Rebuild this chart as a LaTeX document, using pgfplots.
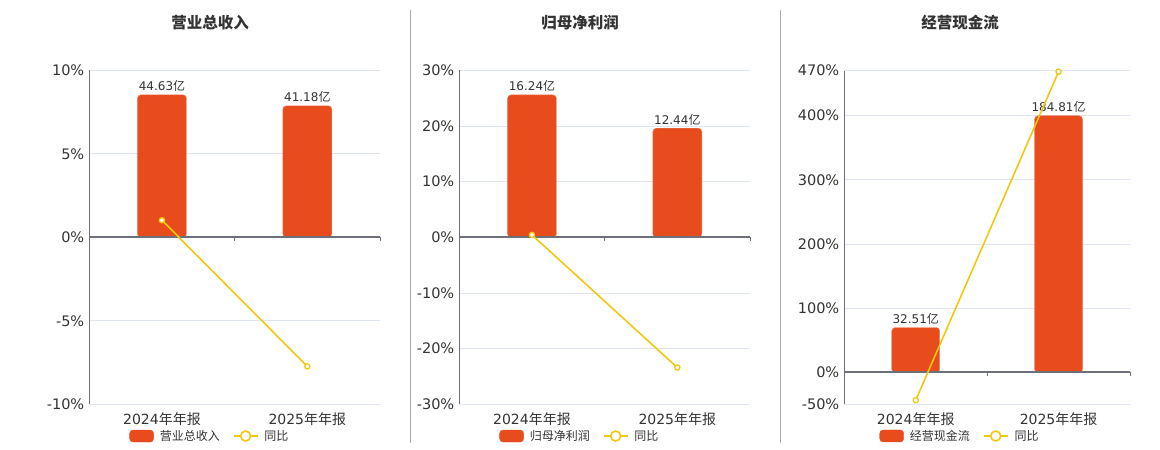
\documentclass[border=0pt]{standalone}
\usepackage{pgfplots}
\pgfplotsset{compat=1.18}
\usepackage{fontspec}
\setmainfont{DejaVu Sans}
\newfontfamily\cjk{Noto Sans CJK SC}
\definecolor{barred}{HTML}{E84B1C}
\definecolor{lineyel}{HTML}{F2C80F}
\definecolor{gridc}{HTML}{E0E6F1}
\definecolor{axisc}{HTML}{6E7079}
\definecolor{txt}{HTML}{333333}
\definecolor{sepc}{HTML}{AAAAAA}

\pgfplotstableread{
x val
0 44.63
1 41.18
}\revbar
\pgfplotstableread{
x yoy
0 1.02
1 -7.73
}\revyoy
\pgfplotstableread{
x val
0 16.24
1 12.44
}\npbar
\pgfplotstableread{
x yoy
0 0.43
1 -23.40
}\npyoy
\pgfplotstableread{
x val
0 32.51
1 184.81
}\cfbar
\pgfplotstableread{
x yoy
0 -43.6
1 468.5
}\cfyoy

\pgfplotsset{
  baseax/.style={
    scale only axis, anchor=south west,
    xmin=-0.5, xmax=1.5,
    /pgf/number format/assume math mode=true,
  },
  mainax/.style={
    baseax,
    axis lines*=left,
    x axis line style={draw=none},
    y axis line style={draw=axisc, line width=0.8pt},
    ymajorgrids, grid style={draw=gridc, line width=0.8pt},
    xtick={0,1},
    xticklabels={2024{\cjk 年年报},2025{\cjk 年年报}},
    major tick length=0pt,
    xticklabel style={font=\fontsize{14}{16}\selectfont, text=txt, anchor=base, yshift=-20.5pt},
    yticklabel style={font=\fontsize{14.5}{17}\selectfont, text=txt, xshift=-1.5pt},
    yticklabel={\pgfmathprintnumber{\tick}\%},
    clip=false,
  },
  hiddenax/.style={
    baseax, hide axis, clip=false,
  },
  barax/.style={
    hiddenax, ybar, bar width=#1,
    nodes near coords={\pgfmathprintnumber[fixed,precision=2,fixed zerofill]{\pgfplotspointmeta}{\cjk 亿}},
    every node near coord/.append style={font=\fontsize{12}{14}\selectfont, text=txt, inner sep=3pt},
  },
  barstyle/.style={
    fill=barred, draw=barred!70!white, line width=0.4pt,
    rounded corners=3.5pt,
  },
  yoystyle/.style={
    draw=lineyel, line width=1.6pt, mark=*, mark size=2.6pt,
    mark options={fill=white, draw=lineyel, line width=1.3pt},
  },
  legax/.style={
    legend columns=-1,
    legend style={draw=none, fill=none, font=\cjk\fontsize{12}{14}\selectfont, text=txt,
      anchor=center,
      /tikz/every odd column/.append style={column sep=4pt},
      /tikz/every even column/.append style={column sep=11pt},
      inner sep=0pt},
  },
}

\begin{document}
\begin{tikzpicture}
\path[use as bounding box] (0pt,0pt) rectangle (1160pt,450pt);

% separators
\draw[sepc, line width=1pt] (410.5pt,7pt) -- (410.5pt,440pt);
\draw[sepc, line width=1pt] (780.5pt,7pt) -- (780.5pt,440pt);

% titles
\node[font=\cjk\bfseries\fontsize{15.5}{18}\selectfont, text=txt] at (210pt,427pt) {营业总收入};
\node[font=\cjk\bfseries\fontsize{15.5}{18}\selectfont, text=txt] at (580pt,427pt) {归母净利润};
\node[font=\cjk\bfseries\fontsize{15.5}{18}\selectfont, text=txt] at (960pt,427pt) {经营现金流};

% ---------- Panel 1 ----------
\begin{axis}[mainax, at={(89.3pt,45.7pt)}, width=290.7pt, height=334pt,
  ymin=-10, ymax=10, ytick={-10,-5,0,5,10}]
\end{axis}
\begin{axis}[barax=49pt, at={(89.3pt,45.7pt)}, width=290.7pt, height=334pt,
  ymin=-52.3, ymax=52.3]
\addplot[barstyle] table[x=x,y=val] {\revbar};
\end{axis}
\begin{axis}[hiddenax, legax, at={(89.3pt,45.7pt)}, width=290.7pt, height=334pt,
  ymin=-10, ymax=10,
  legend style={at={(axis description cs:0.415,-0.095)}}]
\draw[axisc, line width=2.2pt] (axis cs:-0.5,0) -- (axis cs:1.5,0);
\draw[axisc, line width=0.8pt] (axis cs:0.5,0) -- ++(0pt,-4pt);
\draw[axisc, line width=0.8pt] (axis cs:1.5,0) -- ++(0pt,-4pt);
\addplot[yoystyle, forget plot] table[x=x,y=yoy] {\revyoy};
\addlegendimage{legend image code/.code={\fill[barred, rounded corners=3.5pt] (0pt,-6pt) rectangle (24pt,6pt);}}
\addlegendentry{营业总收入}
\addlegendimage{legend image code/.code={\draw[lineyel, line width=1.6pt] (0pt,0pt) -- (24pt,0pt); \draw[lineyel, line width=1.6pt, fill=white] (12pt,0pt) circle (5pt);}}
\addlegendentry{同比}
\end{axis}

% ---------- Panel 2 ----------
\begin{axis}[mainax, at={(459.3pt,45.7pt)}, width=290.7pt, height=334pt,
  ymin=-30, ymax=30, ytick={-30,-20,-10,0,10,20,30}]
\end{axis}
\begin{axis}[barax=49pt, at={(459.3pt,45.7pt)}, width=290.7pt, height=334pt,
  ymin=-19.05, ymax=19.05]
\addplot[barstyle] table[x=x,y=val] {\npbar};
\end{axis}
\begin{axis}[hiddenax, legax, at={(459.3pt,45.7pt)}, width=290.7pt, height=334pt,
  ymin=-30, ymax=30,
  legend style={at={(axis description cs:0.415,-0.095)}}]
\draw[axisc, line width=2.2pt] (axis cs:-0.5,0) -- (axis cs:1.5,0);
\draw[axisc, line width=0.8pt] (axis cs:0.5,0) -- ++(0pt,-4pt);
\draw[axisc, line width=0.8pt] (axis cs:1.5,0) -- ++(0pt,-4pt);
\addplot[yoystyle, forget plot] table[x=x,y=yoy] {\npyoy};
\addlegendimage{legend image code/.code={\fill[barred, rounded corners=3.5pt] (0pt,-6pt) rectangle (24pt,6pt);}}
\addlegendentry{归母净利润}
\addlegendimage{legend image code/.code={\draw[lineyel, line width=1.6pt] (0pt,0pt) -- (24pt,0pt); \draw[lineyel, line width=1.6pt, fill=white] (12pt,0pt) circle (5pt);}}
\addlegendentry{同比}
\end{axis}

% ---------- Panel 3 ----------
\begin{axis}[mainax, at={(844.3pt,45.7pt)}, width=285.7pt, height=333.6pt,
  ymin=-50, ymax=470, ytick={-50,0,100,200,300,400,470}]
\end{axis}
\begin{axis}[barax=48pt, at={(844.3pt,45.7pt)}, width=285.7pt, height=333.6pt,
  ymin=-22.7, ymax=217.2]
\addplot[barstyle] table[x=x,y=val] {\cfbar};
\end{axis}
\begin{axis}[hiddenax, legax, at={(844.3pt,45.7pt)}, width=285.7pt, height=333.6pt,
  ymin=-50, ymax=470,
  legend style={at={(axis description cs:0.405,-0.095)}}]
\draw[axisc, line width=2.2pt] (axis cs:-0.5,0) -- (axis cs:1.5,0);
\draw[axisc, line width=0.8pt] (axis cs:0.5,0) -- ++(0pt,-4pt);
\draw[axisc, line width=0.8pt] (axis cs:1.5,0) -- ++(0pt,-4pt);
\addplot[yoystyle, forget plot] table[x=x,y=yoy] {\cfyoy};
\addlegendimage{legend image code/.code={\fill[barred, rounded corners=3.5pt] (0pt,-6pt) rectangle (24pt,6pt);}}
\addlegendentry{经营现金流}
\addlegendimage{legend image code/.code={\draw[lineyel, line width=1.6pt] (0pt,0pt) -- (24pt,0pt); \draw[lineyel, line width=1.6pt, fill=white] (12pt,0pt) circle (5pt);}}
\addlegendentry{同比}
\end{axis}
\end{tikzpicture}
\end{document}
